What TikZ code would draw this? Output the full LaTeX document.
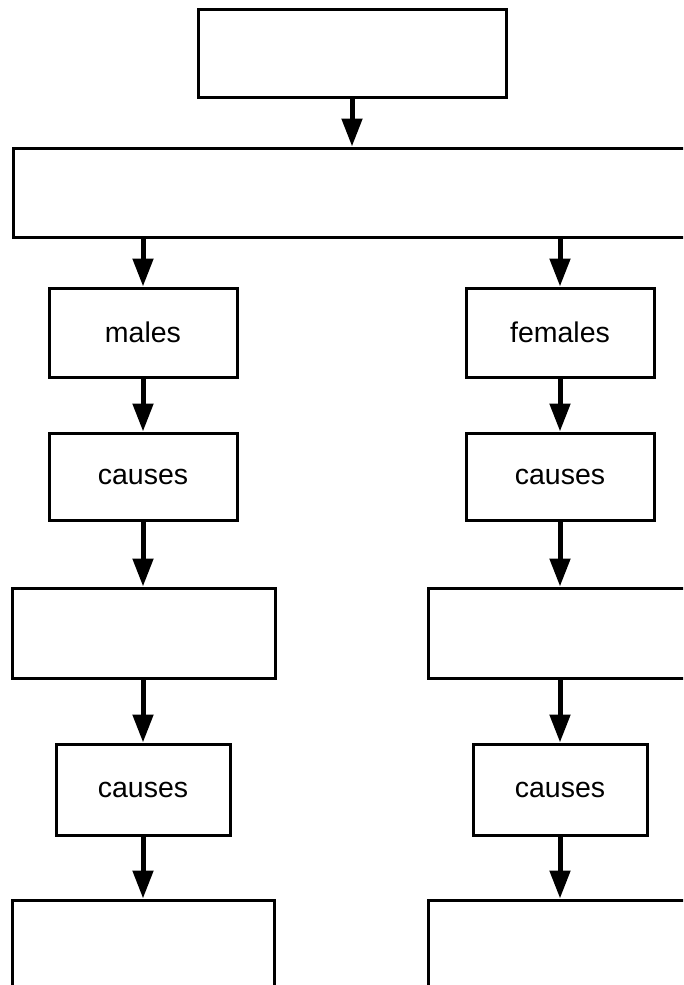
\documentclass[tikz,border=0pt]{standalone}
\usepackage{fontspec}
\setmainfont{Liberation Sans}
\usetikzlibrary{arrows.meta}
\begin{document}
\begin{tikzpicture}[x=1pt,y=-1pt,
  box/.style={draw=black,line width=3pt,fill=white,inner sep=0pt,
    font=\fontsize{28.5}{32}\selectfont},
  flow/.style={line width=5pt,-{Triangle[width=20pt,length=28pt]}}]
\useasboundingbox (0,0) rectangle (683,985);
\clip (0,0) rectangle (683,985);
% top level
\node[box,minimum width=308pt,minimum height=88pt] (top) at (352,53) {};
\node[box,minimum width=678pt,minimum height=89pt] (wide) at (352,192.5) {};
% left column
\node[box,minimum width=188pt,minimum height=89pt] (males) at (143,332.5) {males};
\node[box,minimum width=188pt,minimum height=87pt] (causesLa) at (143,476.5) {causes};
\node[box,minimum width=263pt,minimum height=90pt] (resL) at (143.5,633) {};
\node[box,minimum width=174pt,minimum height=91pt] (causesLb) at (143,789.5) {causes};
\node[box,minimum width=262pt,minimum height=90pt] (endL) at (143,945) {};
% right column
\node[box,minimum width=188pt,minimum height=89pt] (females) at (560,332.5) {females};
\node[box,minimum width=188pt,minimum height=87pt] (causesRa) at (560,476.5) {causes};
\node[box,minimum width=263pt,minimum height=90pt] (resR) at (559.5,633) {};
\node[box,minimum width=174pt,minimum height=91pt] (causesRb) at (560,789.5) {causes};
\node[box,minimum width=263pt,minimum height=90pt] (endR) at (559.5,945) {};
% connectors
\draw[flow] (top) -- (wide);
\draw[flow] (wide.south -| males) -- (males);
\draw[flow] (wide.south -| females) -- (females);
\draw[flow] (males) -- (causesLa);
\draw[flow] (causesLa) -- (causesLa |- resL.north);
\draw[flow] (resL.south -| causesLb) -- (causesLb);
\draw[flow] (causesLb) -- (causesLb |- endL.north);
\draw[flow] (females) -- (causesRa);
\draw[flow] (causesRa) -- (causesRa |- resR.north);
\draw[flow] (resR.south -| causesRb) -- (causesRb);
\draw[flow] (causesRb) -- (causesRb |- endR.north);
\end{tikzpicture}
\end{document}
